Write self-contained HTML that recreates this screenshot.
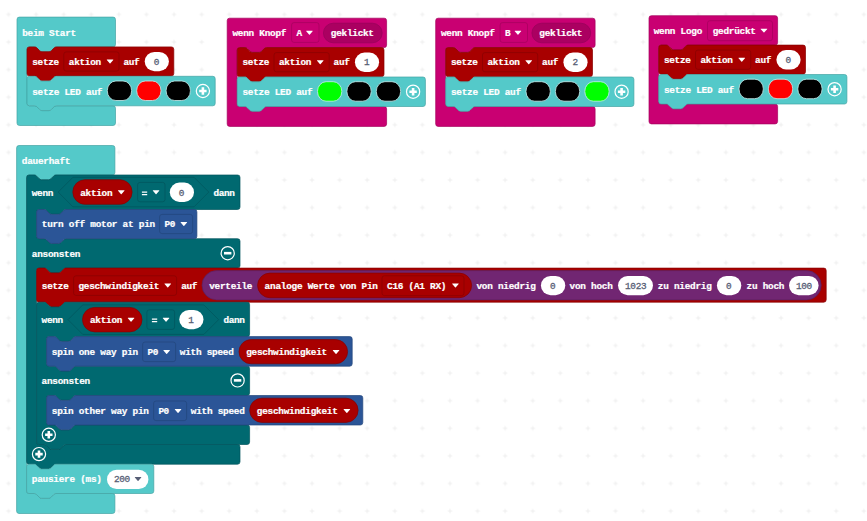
<!DOCTYPE html>
<html><head><meta charset="utf-8"><title>MakeCode</title>
<style>
html,body{margin:0;padding:0;background:#fff;}
body{width:867px;height:521px;overflow:hidden;}
svg{display:block;}
text{font-family:"Liberation Mono",monospace;}
</style></head><body>
<svg width="867" height="521" viewBox="0 0 867 521">
<defs><pattern id="g" x="-5.26" y="0.66" width="27.59" height="27.59" patternUnits="userSpaceOnUse">
<path d="M13.8,11.5v4.6M11.5,13.8h4.6" stroke="#e8e8e8" stroke-width="0.7" fill="none"/></pattern></defs>
<rect width="867" height="521" fill="#fff"/>
<rect width="867" height="521" fill="url(#g)"/>
<path d="M17,19.5 a2.4,2.4 0 0 1 2.4,-2.4 H113.1 a2.4,2.4 0 0 1 2.4,2.4 V44.5 a2.4,2.4 0 0 1 -2.4,2.4 H56.3 c -1.2,0 -1.8,0.6 -2.4,1.2 l -2.4,2.4 c -0.6,0.6 -1.2,1.2 -2.4,1.2 h -7.2 c -1.2,0 -1.8,-0.6 -2.4,-1.2 l -2.4,-2.4 c -0.6,-0.6 -1.2,-1.2 -2.4,-1.2 H29.4 a2.4,2.4 0 0 0 -2.4,2.4 V103.4 a2.4,2.4 0 0 0 2.4,2.4 H34.7 c 1.2,0 1.8,0.6 2.4,1.2 l 2.4,2.4 c 0.6,0.6 1.2,1.2 2.4,1.2 h 7.2 c 1.2,0 1.8,-0.6 2.4,-1.2 l 2.4,-2.4 c 0.6,-0.6 1.2,-1.2 2.4,-1.2 H113.1 a2.4,2.4 0 0 1 2.4,2.4 V123.1 a2.4,2.4 0 0 1 -2.4,2.4 H19.4 a2.4,2.4 0 0 1 -2.4,-2.4 z" fill="#54C9C9" stroke="#44A3A3" stroke-width="0.7"/>
<text x="22.2" y="35.8" fill="#fff" font-weight="bold" font-size="9.4" text-anchor="start" textLength="54" lengthAdjust="spacing" stroke="#fff" stroke-width="0.22">beim Start</text>
<path d="M27,49.3 a2.4,2.4 0 0 1 2.4,-2.4 H34.7 c 1.2,0 1.8,0.6 2.4,1.2 l 2.4,2.4 c 0.6,0.6 1.2,1.2 2.4,1.2 h 7.2 c 1.2,0 1.8,-0.6 2.4,-1.2 l 2.4,-2.4 c 0.6,-0.6 1.2,-1.2 2.4,-1.2 H171.4 a2.4,2.4 0 0 1 2.4,2.4 V73.6 a2.4,2.4 0 0 1 -2.4,2.4 H56.3 c -1.2,0 -1.8,0.6 -2.4,1.2 l -2.4,2.4 c -0.6,0.6 -1.2,1.2 -2.4,1.2 h -7.2 c -1.2,0 -1.8,-0.6 -2.4,-1.2 l -2.4,-2.4 c -0.6,-0.6 -1.2,-1.2 -2.4,-1.2 H29.4 a2.4,2.4 0 0 1 -2.4,-2.4 z" fill="#A80000" stroke="#860000" stroke-width="0.7"/>
<text x="32.2" y="64.7" fill="#fff" font-weight="bold" font-size="9.4" text-anchor="start" textLength="27" lengthAdjust="spacing" stroke="#fff" stroke-width="0.22">setze</text>
<rect x="63.8" y="51.9" width="55.2" height="19.2" rx="2.4" fill="#A80000" stroke="#860000" stroke-width="0.7"/>
<text x="68.8" y="64.7" fill="#fff" font-weight="bold" font-size="9.4" text-anchor="start" textLength="32.4" lengthAdjust="spacing" stroke="#fff" stroke-width="0.22">aktion</text>
<path d="M106.7,59.55 h6.3 q0.6,0 0.25,0.5 l-2.8,3.2 q-0.4,0.45 -0.8,0 l-2.8,-3.2 q-0.35,-0.5 0.25,-0.5 z" fill="#fff"/>
<text x="123.4" y="64.7" fill="#fff" font-weight="bold" font-size="9.4" text-anchor="start" textLength="16.2" lengthAdjust="spacing" stroke="#fff" stroke-width="0.22">auf</text>
<rect x="144.7" y="51.9" width="24.2" height="19.3" rx="9.65" fill="#fff" stroke="#fff" stroke-width="0"/>
<text x="156.5" y="64.7" fill="#575E75" font-weight="normal" font-size="9.4" text-anchor="middle" stroke="#575E75" stroke-width="0.3">0</text>
<path d="M27,78.7 a2.4,2.4 0 0 1 2.4,-2.4 H34.7 c 1.2,0 1.8,0.6 2.4,1.2 l 2.4,2.4 c 0.6,0.6 1.2,1.2 2.4,1.2 h 7.2 c 1.2,0 1.8,-0.6 2.4,-1.2 l 2.4,-2.4 c 0.6,-0.6 1.2,-1.2 2.4,-1.2 H212.8 a2.4,2.4 0 0 1 2.4,2.4 V103.4 a2.4,2.4 0 0 1 -2.4,2.4 H56.3 c -1.2,0 -1.8,0.6 -2.4,1.2 l -2.4,2.4 c -0.6,0.6 -1.2,1.2 -2.4,1.2 h -7.2 c -1.2,0 -1.8,-0.6 -2.4,-1.2 l -2.4,-2.4 c -0.6,-0.6 -1.2,-1.2 -2.4,-1.2 H29.4 a2.4,2.4 0 0 1 -2.4,-2.4 z" fill="#54C9C9" stroke="#44A3A3" stroke-width="0.7"/>
<text x="32.2" y="94.5" fill="#fff" font-weight="bold" font-size="9.4" text-anchor="start" textLength="70.2" lengthAdjust="spacing" stroke="#fff" stroke-width="0.22">setze LED auf</text>
<rect x="107.3" y="81" width="24.3" height="19.5" rx="8.6" ry="9.6" fill="#000" stroke="#c9eeee" stroke-width="0.8"/>
<rect x="136.7" y="81" width="24.3" height="19.5" rx="8.6" ry="9.6" fill="#f00" stroke="#c9eeee" stroke-width="0.8"/>
<rect x="166.1" y="81" width="24.3" height="19.5" rx="8.6" ry="9.6" fill="#000" stroke="#c9eeee" stroke-width="0.8"/>
<circle cx="202.9" cy="91" r="6.6" fill="none" stroke="#fff" stroke-width="1.2"/>
<path d="M199.2,91 h7.4 M202.9,87.3 v7.4" stroke="#fff" stroke-width="2.6" fill="none"/>
<path d="M227.2,20.6 a2.4,2.4 0 0 1 2.4,-2.4 H384.2 a2.4,2.4 0 0 1 2.4,2.4 V45.2 a2.4,2.4 0 0 1 -2.4,2.4 H266.5 c -1.2,0 -1.8,0.6 -2.4,1.2 l -2.4,2.4 c -0.6,0.6 -1.2,1.2 -2.4,1.2 h -7.2 c -1.2,0 -1.8,-0.6 -2.4,-1.2 l -2.4,-2.4 c -0.6,-0.6 -1.2,-1.2 -2.4,-1.2 H239.6 a2.4,2.4 0 0 0 -2.4,2.4 V104.1 a2.4,2.4 0 0 0 2.4,2.4 H244.9 c 1.2,0 1.8,0.6 2.4,1.2 l 2.4,2.4 c 0.6,0.6 1.2,1.2 2.4,1.2 h 7.2 c 1.2,0 1.8,-0.6 2.4,-1.2 l 2.4,-2.4 c 0.6,-0.6 1.2,-1.2 2.4,-1.2 H384.2 a2.4,2.4 0 0 1 2.4,2.4 V124 a2.4,2.4 0 0 1 -2.4,2.4 H229.6 a2.4,2.4 0 0 1 -2.4,-2.4 z" fill="#C90072" stroke="#A3005C" stroke-width="0.7"/>
<text x="232.4" y="35.9" fill="#fff" font-weight="bold" font-size="9.4" text-anchor="start" textLength="54" lengthAdjust="spacing" stroke="#fff" stroke-width="0.22">wenn Knopf</text>
<rect x="291.6" y="22.6" width="27.4" height="19.8" rx="2.4" fill="#C90072" stroke="#A3005C" stroke-width="0.7"/>
<text x="296.4" y="35.9" fill="#fff" font-weight="bold" font-size="9.4" text-anchor="start" stroke="#fff" stroke-width="0.22">A</text>
<path d="M306.1,30.75 h6.3 q0.6,0 0.25,0.5 l-2.8,3.2 q-0.4,0.45 -0.8,0 l-2.8,-3.2 q-0.35,-0.5 0.25,-0.5 z" fill="#fff"/>
<rect x="323.4" y="23.2" width="58.8" height="19.6" rx="9.8" fill="#AB0061" stroke="#97005A" stroke-width="0.7"/>
<text x="330.8" y="35.9" fill="#fff" font-weight="bold" font-size="9.4" text-anchor="start" textLength="43.2" lengthAdjust="spacing" stroke="#fff" stroke-width="0.22">geklickt</text>
<path d="M237.2,50 a2.4,2.4 0 0 1 2.4,-2.4 H244.9 c 1.2,0 1.8,0.6 2.4,1.2 l 2.4,2.4 c 0.6,0.6 1.2,1.2 2.4,1.2 h 7.2 c 1.2,0 1.8,-0.6 2.4,-1.2 l 2.4,-2.4 c 0.6,-0.6 1.2,-1.2 2.4,-1.2 H381.6 a2.4,2.4 0 0 1 2.4,2.4 V74.3 a2.4,2.4 0 0 1 -2.4,2.4 H266.5 c -1.2,0 -1.8,0.6 -2.4,1.2 l -2.4,2.4 c -0.6,0.6 -1.2,1.2 -2.4,1.2 h -7.2 c -1.2,0 -1.8,-0.6 -2.4,-1.2 l -2.4,-2.4 c -0.6,-0.6 -1.2,-1.2 -2.4,-1.2 H239.6 a2.4,2.4 0 0 1 -2.4,-2.4 z" fill="#A80000" stroke="#860000" stroke-width="0.7"/>
<text x="242.4" y="65.4" fill="#fff" font-weight="bold" font-size="9.4" text-anchor="start" textLength="27" lengthAdjust="spacing" stroke="#fff" stroke-width="0.22">setze</text>
<rect x="274" y="52.6" width="55.2" height="19.2" rx="2.4" fill="#A80000" stroke="#860000" stroke-width="0.7"/>
<text x="279" y="65.4" fill="#fff" font-weight="bold" font-size="9.4" text-anchor="start" textLength="32.4" lengthAdjust="spacing" stroke="#fff" stroke-width="0.22">aktion</text>
<path d="M316.9,60.25 h6.3 q0.6,0 0.25,0.5 l-2.8,3.2 q-0.4,0.45 -0.8,0 l-2.8,-3.2 q-0.35,-0.5 0.25,-0.5 z" fill="#fff"/>
<text x="333.6" y="65.4" fill="#fff" font-weight="bold" font-size="9.4" text-anchor="start" textLength="16.2" lengthAdjust="spacing" stroke="#fff" stroke-width="0.22">auf</text>
<rect x="354.9" y="52.6" width="24.2" height="19.3" rx="9.65" fill="#fff" stroke="#fff" stroke-width="0"/>
<text x="366.7" y="65.4" fill="#575E75" font-weight="normal" font-size="9.4" text-anchor="middle" stroke="#575E75" stroke-width="0.3">1</text>
<path d="M237.2,79.4 a2.4,2.4 0 0 1 2.4,-2.4 H244.9 c 1.2,0 1.8,0.6 2.4,1.2 l 2.4,2.4 c 0.6,0.6 1.2,1.2 2.4,1.2 h 7.2 c 1.2,0 1.8,-0.6 2.4,-1.2 l 2.4,-2.4 c 0.6,-0.6 1.2,-1.2 2.4,-1.2 H423 a2.4,2.4 0 0 1 2.4,2.4 V104.1 a2.4,2.4 0 0 1 -2.4,2.4 H266.5 c -1.2,0 -1.8,0.6 -2.4,1.2 l -2.4,2.4 c -0.6,0.6 -1.2,1.2 -2.4,1.2 h -7.2 c -1.2,0 -1.8,-0.6 -2.4,-1.2 l -2.4,-2.4 c -0.6,-0.6 -1.2,-1.2 -2.4,-1.2 H239.6 a2.4,2.4 0 0 1 -2.4,-2.4 z" fill="#54C9C9" stroke="#44A3A3" stroke-width="0.7"/>
<text x="242.4" y="95.2" fill="#fff" font-weight="bold" font-size="9.4" text-anchor="start" textLength="70.2" lengthAdjust="spacing" stroke="#fff" stroke-width="0.22">setze LED auf</text>
<rect x="317.5" y="81.7" width="24.3" height="19.5" rx="8.6" ry="9.6" fill="#0f0" stroke="#c9eeee" stroke-width="0.8"/>
<rect x="346.9" y="81.7" width="24.3" height="19.5" rx="8.6" ry="9.6" fill="#000" stroke="#c9eeee" stroke-width="0.8"/>
<rect x="376.3" y="81.7" width="24.3" height="19.5" rx="8.6" ry="9.6" fill="#000" stroke="#c9eeee" stroke-width="0.8"/>
<circle cx="413.1" cy="91.7" r="6.6" fill="none" stroke="#fff" stroke-width="1.2"/>
<path d="M409.4,91.7 h7.4 M413.1,88 v7.4" stroke="#fff" stroke-width="2.6" fill="none"/>
<path d="M435.7,20.6 a2.4,2.4 0 0 1 2.4,-2.4 H592.7 a2.4,2.4 0 0 1 2.4,2.4 V45.2 a2.4,2.4 0 0 1 -2.4,2.4 H475 c -1.2,0 -1.8,0.6 -2.4,1.2 l -2.4,2.4 c -0.6,0.6 -1.2,1.2 -2.4,1.2 h -7.2 c -1.2,0 -1.8,-0.6 -2.4,-1.2 l -2.4,-2.4 c -0.6,-0.6 -1.2,-1.2 -2.4,-1.2 H448.1 a2.4,2.4 0 0 0 -2.4,2.4 V104.1 a2.4,2.4 0 0 0 2.4,2.4 H453.4 c 1.2,0 1.8,0.6 2.4,1.2 l 2.4,2.4 c 0.6,0.6 1.2,1.2 2.4,1.2 h 7.2 c 1.2,0 1.8,-0.6 2.4,-1.2 l 2.4,-2.4 c 0.6,-0.6 1.2,-1.2 2.4,-1.2 H592.7 a2.4,2.4 0 0 1 2.4,2.4 V124 a2.4,2.4 0 0 1 -2.4,2.4 H438.1 a2.4,2.4 0 0 1 -2.4,-2.4 z" fill="#C90072" stroke="#A3005C" stroke-width="0.7"/>
<text x="440.9" y="35.9" fill="#fff" font-weight="bold" font-size="9.4" text-anchor="start" textLength="54" lengthAdjust="spacing" stroke="#fff" stroke-width="0.22">wenn Knopf</text>
<rect x="500.1" y="22.6" width="27.4" height="19.8" rx="2.4" fill="#C90072" stroke="#A3005C" stroke-width="0.7"/>
<text x="504.9" y="35.9" fill="#fff" font-weight="bold" font-size="9.4" text-anchor="start" stroke="#fff" stroke-width="0.22">B</text>
<path d="M514.6,30.75 h6.3 q0.6,0 0.25,0.5 l-2.8,3.2 q-0.4,0.45 -0.8,0 l-2.8,-3.2 q-0.35,-0.5 0.25,-0.5 z" fill="#fff"/>
<rect x="531.9" y="23.2" width="58.8" height="19.6" rx="9.8" fill="#AB0061" stroke="#97005A" stroke-width="0.7"/>
<text x="539.3" y="35.9" fill="#fff" font-weight="bold" font-size="9.4" text-anchor="start" textLength="43.2" lengthAdjust="spacing" stroke="#fff" stroke-width="0.22">geklickt</text>
<path d="M445.7,50 a2.4,2.4 0 0 1 2.4,-2.4 H453.4 c 1.2,0 1.8,0.6 2.4,1.2 l 2.4,2.4 c 0.6,0.6 1.2,1.2 2.4,1.2 h 7.2 c 1.2,0 1.8,-0.6 2.4,-1.2 l 2.4,-2.4 c 0.6,-0.6 1.2,-1.2 2.4,-1.2 H590.1 a2.4,2.4 0 0 1 2.4,2.4 V74.3 a2.4,2.4 0 0 1 -2.4,2.4 H475 c -1.2,0 -1.8,0.6 -2.4,1.2 l -2.4,2.4 c -0.6,0.6 -1.2,1.2 -2.4,1.2 h -7.2 c -1.2,0 -1.8,-0.6 -2.4,-1.2 l -2.4,-2.4 c -0.6,-0.6 -1.2,-1.2 -2.4,-1.2 H448.1 a2.4,2.4 0 0 1 -2.4,-2.4 z" fill="#A80000" stroke="#860000" stroke-width="0.7"/>
<text x="450.9" y="65.4" fill="#fff" font-weight="bold" font-size="9.4" text-anchor="start" textLength="27" lengthAdjust="spacing" stroke="#fff" stroke-width="0.22">setze</text>
<rect x="482.5" y="52.6" width="55.2" height="19.2" rx="2.4" fill="#A80000" stroke="#860000" stroke-width="0.7"/>
<text x="487.5" y="65.4" fill="#fff" font-weight="bold" font-size="9.4" text-anchor="start" textLength="32.4" lengthAdjust="spacing" stroke="#fff" stroke-width="0.22">aktion</text>
<path d="M525.4,60.25 h6.3 q0.6,0 0.25,0.5 l-2.8,3.2 q-0.4,0.45 -0.8,0 l-2.8,-3.2 q-0.35,-0.5 0.25,-0.5 z" fill="#fff"/>
<text x="542.1" y="65.4" fill="#fff" font-weight="bold" font-size="9.4" text-anchor="start" textLength="16.2" lengthAdjust="spacing" stroke="#fff" stroke-width="0.22">auf</text>
<rect x="563.4" y="52.6" width="24.2" height="19.3" rx="9.65" fill="#fff" stroke="#fff" stroke-width="0"/>
<text x="575.2" y="65.4" fill="#575E75" font-weight="normal" font-size="9.4" text-anchor="middle" stroke="#575E75" stroke-width="0.3">2</text>
<path d="M445.7,79.4 a2.4,2.4 0 0 1 2.4,-2.4 H453.4 c 1.2,0 1.8,0.6 2.4,1.2 l 2.4,2.4 c 0.6,0.6 1.2,1.2 2.4,1.2 h 7.2 c 1.2,0 1.8,-0.6 2.4,-1.2 l 2.4,-2.4 c 0.6,-0.6 1.2,-1.2 2.4,-1.2 H631.5 a2.4,2.4 0 0 1 2.4,2.4 V104.1 a2.4,2.4 0 0 1 -2.4,2.4 H475 c -1.2,0 -1.8,0.6 -2.4,1.2 l -2.4,2.4 c -0.6,0.6 -1.2,1.2 -2.4,1.2 h -7.2 c -1.2,0 -1.8,-0.6 -2.4,-1.2 l -2.4,-2.4 c -0.6,-0.6 -1.2,-1.2 -2.4,-1.2 H448.1 a2.4,2.4 0 0 1 -2.4,-2.4 z" fill="#54C9C9" stroke="#44A3A3" stroke-width="0.7"/>
<text x="450.9" y="95.2" fill="#fff" font-weight="bold" font-size="9.4" text-anchor="start" textLength="70.2" lengthAdjust="spacing" stroke="#fff" stroke-width="0.22">setze LED auf</text>
<rect x="526" y="81.7" width="24.3" height="19.5" rx="8.6" ry="9.6" fill="#000" stroke="#c9eeee" stroke-width="0.8"/>
<rect x="555.4" y="81.7" width="24.3" height="19.5" rx="8.6" ry="9.6" fill="#000" stroke="#c9eeee" stroke-width="0.8"/>
<rect x="584.8" y="81.7" width="24.3" height="19.5" rx="8.6" ry="9.6" fill="#0f0" stroke="#c9eeee" stroke-width="0.8"/>
<circle cx="621.6" cy="91.7" r="6.6" fill="none" stroke="#fff" stroke-width="1.2"/>
<path d="M617.9,91.7 h7.4 M621.6,88 v7.4" stroke="#fff" stroke-width="2.6" fill="none"/>
<path d="M649,18.1 a2.4,2.4 0 0 1 2.4,-2.4 H775.2 a2.4,2.4 0 0 1 2.4,2.4 V42.7 a2.4,2.4 0 0 1 -2.4,2.4 H688 c -1.2,0 -1.8,0.6 -2.4,1.2 l -2.4,2.4 c -0.6,0.6 -1.2,1.2 -2.4,1.2 h -7.2 c -1.2,0 -1.8,-0.6 -2.4,-1.2 l -2.4,-2.4 c -0.6,-0.6 -1.2,-1.2 -2.4,-1.2 H661.1 a2.4,2.4 0 0 0 -2.4,2.4 V101.6 a2.4,2.4 0 0 0 2.4,2.4 H666.4 c 1.2,0 1.8,0.6 2.4,1.2 l 2.4,2.4 c 0.6,0.6 1.2,1.2 2.4,1.2 h 7.2 c 1.2,0 1.8,-0.6 2.4,-1.2 l 2.4,-2.4 c 0.6,-0.6 1.2,-1.2 2.4,-1.2 H775.2 a2.4,2.4 0 0 1 2.4,2.4 V121.5 a2.4,2.4 0 0 1 -2.4,2.4 H651.4 a2.4,2.4 0 0 1 -2.4,-2.4 z" fill="#C90072" stroke="#A3005C" stroke-width="0.7"/>
<text x="653.7" y="33.8" fill="#fff" font-weight="bold" font-size="9.4" text-anchor="start" textLength="48.6" lengthAdjust="spacing" stroke="#fff" stroke-width="0.22">wenn Logo</text>
<rect x="707.5" y="20.7" width="65" height="20" rx="2.4" fill="#C90072" stroke="#A3005C" stroke-width="0.7"/>
<text x="712.7" y="33.8" fill="#fff" font-weight="bold" font-size="9.4" text-anchor="start" textLength="43.2" lengthAdjust="spacing" stroke="#fff" stroke-width="0.22">gedrückt</text>
<path d="M760.6,28.65 h6.3 q0.6,0 0.25,0.5 l-2.8,3.2 q-0.4,0.45 -0.8,0 l-2.8,-3.2 q-0.35,-0.5 0.25,-0.5 z" fill="#fff"/>
<path d="M658.7,47.5 a2.4,2.4 0 0 1 2.4,-2.4 H666.4 c 1.2,0 1.8,0.6 2.4,1.2 l 2.4,2.4 c 0.6,0.6 1.2,1.2 2.4,1.2 h 7.2 c 1.2,0 1.8,-0.6 2.4,-1.2 l 2.4,-2.4 c 0.6,-0.6 1.2,-1.2 2.4,-1.2 H803.1 a2.4,2.4 0 0 1 2.4,2.4 V71.8 a2.4,2.4 0 0 1 -2.4,2.4 H688 c -1.2,0 -1.8,0.6 -2.4,1.2 l -2.4,2.4 c -0.6,0.6 -1.2,1.2 -2.4,1.2 h -7.2 c -1.2,0 -1.8,-0.6 -2.4,-1.2 l -2.4,-2.4 c -0.6,-0.6 -1.2,-1.2 -2.4,-1.2 H661.1 a2.4,2.4 0 0 1 -2.4,-2.4 z" fill="#A80000" stroke="#860000" stroke-width="0.7"/>
<text x="663.9" y="62.9" fill="#fff" font-weight="bold" font-size="9.4" text-anchor="start" textLength="27" lengthAdjust="spacing" stroke="#fff" stroke-width="0.22">setze</text>
<rect x="695.5" y="50.1" width="55.2" height="19.2" rx="2.4" fill="#A80000" stroke="#860000" stroke-width="0.7"/>
<text x="700.5" y="62.9" fill="#fff" font-weight="bold" font-size="9.4" text-anchor="start" textLength="32.4" lengthAdjust="spacing" stroke="#fff" stroke-width="0.22">aktion</text>
<path d="M738.4,57.75 h6.3 q0.6,0 0.25,0.5 l-2.8,3.2 q-0.4,0.45 -0.8,0 l-2.8,-3.2 q-0.35,-0.5 0.25,-0.5 z" fill="#fff"/>
<text x="755.1" y="62.9" fill="#fff" font-weight="bold" font-size="9.4" text-anchor="start" textLength="16.2" lengthAdjust="spacing" stroke="#fff" stroke-width="0.22">auf</text>
<rect x="776.4" y="50.1" width="24.2" height="19.3" rx="9.65" fill="#fff" stroke="#fff" stroke-width="0"/>
<text x="788.2" y="62.9" fill="#575E75" font-weight="normal" font-size="9.4" text-anchor="middle" stroke="#575E75" stroke-width="0.3">0</text>
<path d="M658.7,76.9 a2.4,2.4 0 0 1 2.4,-2.4 H666.4 c 1.2,0 1.8,0.6 2.4,1.2 l 2.4,2.4 c 0.6,0.6 1.2,1.2 2.4,1.2 h 7.2 c 1.2,0 1.8,-0.6 2.4,-1.2 l 2.4,-2.4 c 0.6,-0.6 1.2,-1.2 2.4,-1.2 H844.5 a2.4,2.4 0 0 1 2.4,2.4 V101.6 a2.4,2.4 0 0 1 -2.4,2.4 H688 c -1.2,0 -1.8,0.6 -2.4,1.2 l -2.4,2.4 c -0.6,0.6 -1.2,1.2 -2.4,1.2 h -7.2 c -1.2,0 -1.8,-0.6 -2.4,-1.2 l -2.4,-2.4 c -0.6,-0.6 -1.2,-1.2 -2.4,-1.2 H661.1 a2.4,2.4 0 0 1 -2.4,-2.4 z" fill="#54C9C9" stroke="#44A3A3" stroke-width="0.7"/>
<text x="663.9" y="92.7" fill="#fff" font-weight="bold" font-size="9.4" text-anchor="start" textLength="70.2" lengthAdjust="spacing" stroke="#fff" stroke-width="0.22">setze LED auf</text>
<rect x="739" y="79.2" width="24.3" height="19.5" rx="8.6" ry="9.6" fill="#000" stroke="#c9eeee" stroke-width="0.8"/>
<rect x="768.4" y="79.2" width="24.3" height="19.5" rx="8.6" ry="9.6" fill="#f00" stroke="#c9eeee" stroke-width="0.8"/>
<rect x="797.8" y="79.2" width="24.3" height="19.5" rx="8.6" ry="9.6" fill="#000" stroke="#c9eeee" stroke-width="0.8"/>
<circle cx="834.6" cy="89.2" r="6.6" fill="none" stroke="#fff" stroke-width="1.2"/>
<path d="M830.9,89.2 h7.4 M834.6,85.5 v7.4" stroke="#fff" stroke-width="2.6" fill="none"/>
<path d="M16.6,147.9 a2.4,2.4 0 0 1 2.4,-2.4 H112.5 a2.4,2.4 0 0 1 2.4,2.4 V172.6 a2.4,2.4 0 0 1 -2.4,2.4 H55.9 c -1.2,0 -1.8,0.6 -2.4,1.2 l -2.4,2.4 c -0.6,0.6 -1.2,1.2 -2.4,1.2 h -7.2 c -1.2,0 -1.8,-0.6 -2.4,-1.2 l -2.4,-2.4 c -0.6,-0.6 -1.2,-1.2 -2.4,-1.2 H29 a2.4,2.4 0 0 0 -2.4,2.4 V491.1 a2.4,2.4 0 0 0 2.4,2.4 H34.3 c 1.2,0 1.8,0.6 2.4,1.2 l 2.4,2.4 c 0.6,0.6 1.2,1.2 2.4,1.2 h 7.2 c 1.2,0 1.8,-0.6 2.4,-1.2 l 2.4,-2.4 c 0.6,-0.6 1.2,-1.2 2.4,-1.2 H112.5 a2.4,2.4 0 0 1 2.4,2.4 V511.1 a2.4,2.4 0 0 1 -2.4,2.4 H19 a2.4,2.4 0 0 1 -2.4,-2.4 z" fill="#54C9C9" stroke="#44A3A3" stroke-width="0.7"/>
<text x="21.8" y="163.9" fill="#fff" font-weight="bold" font-size="9.4" text-anchor="start" textLength="48.6" lengthAdjust="spacing" stroke="#fff" stroke-width="0.22">dauerhaft</text>
<path d="M26.6,177.4 a2.4,2.4 0 0 1 2.4,-2.4 H34.3 c 1.2,0 1.8,0.6 2.4,1.2 l 2.4,2.4 c 0.6,0.6 1.2,1.2 2.4,1.2 h 7.2 c 1.2,0 1.8,-0.6 2.4,-1.2 l 2.4,-2.4 c 0.6,-0.6 1.2,-1.2 2.4,-1.2 H237.6 a2.4,2.4 0 0 1 2.4,2.4 V207.1 a2.4,2.4 0 0 1 -2.4,2.4 H65.9 c -1.2,0 -1.8,0.6 -2.4,1.2 l -2.4,2.4 c -0.6,0.6 -1.2,1.2 -2.4,1.2 h -7.2 c -1.2,0 -1.8,-0.6 -2.4,-1.2 l -2.4,-2.4 c -0.6,-0.6 -1.2,-1.2 -2.4,-1.2 H39 a2.4,2.4 0 0 0 -2.4,2.4 V236.3 a2.4,2.4 0 0 0 2.4,2.4 H44.3 c 1.2,0 1.8,0.6 2.4,1.2 l 2.4,2.4 c 0.6,0.6 1.2,1.2 2.4,1.2 h 7.2 c 1.2,0 1.8,-0.6 2.4,-1.2 l 2.4,-2.4 c 0.6,-0.6 1.2,-1.2 2.4,-1.2 H237.6 a2.4,2.4 0 0 1 2.4,2.4 V265.7 a2.4,2.4 0 0 1 -2.4,2.4 H65.9 c -1.2,0 -1.8,0.6 -2.4,1.2 l -2.4,2.4 c -0.6,0.6 -1.2,1.2 -2.4,1.2 h -7.2 c -1.2,0 -1.8,-0.6 -2.4,-1.2 l -2.4,-2.4 c -0.6,-0.6 -1.2,-1.2 -2.4,-1.2 H39 a2.4,2.4 0 0 0 -2.4,2.4 V442.1 a2.4,2.4 0 0 0 2.4,2.4 H44.3 c 1.2,0 1.8,0.6 2.4,1.2 l 2.4,2.4 c 0.6,0.6 1.2,1.2 2.4,1.2 h 7.2 c 1.2,0 1.8,-0.6 2.4,-1.2 l 2.4,-2.4 c 0.6,-0.6 1.2,-1.2 2.4,-1.2 H237.6 a2.4,2.4 0 0 1 2.4,2.4 V461.8 a2.4,2.4 0 0 1 -2.4,2.4 H55.9 c -1.2,0 -1.8,0.6 -2.4,1.2 l -2.4,2.4 c -0.6,0.6 -1.2,1.2 -2.4,1.2 h -7.2 c -1.2,0 -1.8,-0.6 -2.4,-1.2 l -2.4,-2.4 c -0.6,-0.6 -1.2,-1.2 -2.4,-1.2 H29 a2.4,2.4 0 0 1 -2.4,-2.4 z" fill="#006970" stroke="#00555B" stroke-width="0.7"/>
<text x="31.8" y="195.8" fill="#fff" font-weight="bold" font-size="9.4" text-anchor="start" textLength="21.6" lengthAdjust="spacing" stroke="#fff" stroke-width="0.22">wenn</text>
<path d="M72.95,177.3 H194.05 l14.75,14.75 l-14.75,14.75 H72.95 l-14.75,-14.75 z" fill="#006970" stroke="#00555B" stroke-width="0.7"/>
<rect x="72.8" y="179.7" width="59.3" height="24.6" rx="12.3" fill="#A80000" stroke="#860000" stroke-width="0.7"/>
<text x="80.2" y="195.8" fill="#fff" font-weight="bold" font-size="9.4" text-anchor="start" textLength="32.4" lengthAdjust="spacing" stroke="#fff" stroke-width="0.22">aktion</text>
<path d="M117.9,190.2 h6.3 q0.6,0 0.25,0.5 l-2.8,3.2 q-0.4,0.45 -0.8,0 l-2.8,-3.2 q-0.35,-0.5 0.25,-0.5 z" fill="#fff"/>
<rect x="137.6" y="182.4" width="27.4" height="19.4" rx="2.4" fill="#006970" stroke="#00555B" stroke-width="0.7"/>
<path d="M141.9,192.15 h5.3 M141.9,194.65 h5.3" stroke="#fff" stroke-width="1.1" fill="none"/>
<path d="M152.7,190.2 h6.3 q0.6,0 0.25,0.5 l-2.8,3.2 q-0.4,0.45 -0.8,0 l-2.8,-3.2 q-0.35,-0.5 0.25,-0.5 z" fill="#fff"/>
<rect x="169.8" y="182.6" width="24.2" height="19.3" rx="9.65" fill="#fff" stroke="#fff" stroke-width="0"/>
<text x="181.6" y="195.8" fill="#575E75" font-weight="normal" font-size="9.4" text-anchor="middle" stroke="#575E75" stroke-width="0.3">0</text>
<text x="213.4" y="195.8" fill="#fff" font-weight="bold" font-size="9.4" text-anchor="start" textLength="21.6" lengthAdjust="spacing" stroke="#fff" stroke-width="0.22">dann</text>
<path d="M36.6,211.9 a2.4,2.4 0 0 1 2.4,-2.4 H44.3 c 1.2,0 1.8,0.6 2.4,1.2 l 2.4,2.4 c 0.6,0.6 1.2,1.2 2.4,1.2 h 7.2 c 1.2,0 1.8,-0.6 2.4,-1.2 l 2.4,-2.4 c 0.6,-0.6 1.2,-1.2 2.4,-1.2 H194.5 a2.4,2.4 0 0 1 2.4,2.4 V236.3 a2.4,2.4 0 0 1 -2.4,2.4 H65.9 c -1.2,0 -1.8,0.6 -2.4,1.2 l -2.4,2.4 c -0.6,0.6 -1.2,1.2 -2.4,1.2 h -7.2 c -1.2,0 -1.8,-0.6 -2.4,-1.2 l -2.4,-2.4 c -0.6,-0.6 -1.2,-1.2 -2.4,-1.2 H39 a2.4,2.4 0 0 1 -2.4,-2.4 z" fill="#2B5597" stroke="#23467B" stroke-width="0.7"/>
<text x="41.8" y="227.2" fill="#fff" font-weight="bold" font-size="9.4" text-anchor="start" textLength="113.4" lengthAdjust="spacing" stroke="#fff" stroke-width="0.22">turn off motor at pin</text>
<rect x="159.6" y="214.4" width="33" height="19.2" rx="2.4" fill="#2B5597" stroke="#23467B" stroke-width="0.7"/>
<text x="164.6" y="227.2" fill="#fff" font-weight="bold" font-size="9.4" text-anchor="start" textLength="10.8" lengthAdjust="spacing" stroke="#fff" stroke-width="0.22">P0</text>
<path d="M180.5,222.05 h6.3 q0.6,0 0.25,0.5 l-2.8,3.2 q-0.4,0.45 -0.8,0 l-2.8,-3.2 q-0.35,-0.5 0.25,-0.5 z" fill="#fff"/>
<text x="31.8" y="257.1" fill="#fff" font-weight="bold" font-size="9.4" text-anchor="start" textLength="48.6" lengthAdjust="spacing" stroke="#fff" stroke-width="0.22">ansonsten</text>
<circle cx="227.7" cy="253.2" r="6.6" fill="none" stroke="#fff" stroke-width="1.2"/>
<path d="M224,253.2 h7.4" stroke="#fff" stroke-width="2.6" fill="none"/>
<path d="M36.6,270.5 a2.4,2.4 0 0 1 2.4,-2.4 H44.3 c 1.2,0 1.8,0.6 2.4,1.2 l 2.4,2.4 c 0.6,0.6 1.2,1.2 2.4,1.2 h 7.2 c 1.2,0 1.8,-0.6 2.4,-1.2 l 2.4,-2.4 c 0.6,-0.6 1.2,-1.2 2.4,-1.2 H823.8 a2.4,2.4 0 0 1 2.4,2.4 V299.8 a2.4,2.4 0 0 1 -2.4,2.4 H65.9 c -1.2,0 -1.8,0.6 -2.4,1.2 l -2.4,2.4 c -0.6,0.6 -1.2,1.2 -2.4,1.2 h -7.2 c -1.2,0 -1.8,-0.6 -2.4,-1.2 l -2.4,-2.4 c -0.6,-0.6 -1.2,-1.2 -2.4,-1.2 H39 a2.4,2.4 0 0 1 -2.4,-2.4 z" fill="#A80000" stroke="#860000" stroke-width="0.7"/>
<text x="41.8" y="289.1" fill="#fff" font-weight="bold" font-size="9.4" text-anchor="start" textLength="27" lengthAdjust="spacing" stroke="#fff" stroke-width="0.22">setze</text>
<rect x="73.6" y="275.8" width="103" height="19.6" rx="2.4" fill="#A80000" stroke="#860000" stroke-width="0.7"/>
<text x="78.4" y="289.1" fill="#fff" font-weight="bold" font-size="9.4" text-anchor="start" textLength="81" lengthAdjust="spacing" stroke="#fff" stroke-width="0.22">geschwindigkeit</text>
<path d="M164.4,283.45 h6.3 q0.6,0 0.25,0.5 l-2.8,3.2 q-0.4,0.45 -0.8,0 l-2.8,-3.2 q-0.35,-0.5 0.25,-0.5 z" fill="#fff"/>
<text x="181.2" y="289.1" fill="#fff" font-weight="bold" font-size="9.4" text-anchor="start" textLength="16.2" lengthAdjust="spacing" stroke="#fff" stroke-width="0.22">auf</text>
<rect x="202" y="270.6" width="619.2" height="29.3" rx="14.65" fill="#712672" stroke="#5B1F5C" stroke-width="0.7"/>
<text x="209.2" y="289.1" fill="#fff" font-weight="bold" font-size="9.4" text-anchor="start" textLength="43.2" lengthAdjust="spacing" stroke="#fff" stroke-width="0.22">verteile</text>
<rect x="257.6" y="273.1" width="214" height="24.6" rx="12.3" fill="#A80000" stroke="#860000" stroke-width="0.7"/>
<text x="264.6" y="289.1" fill="#fff" font-weight="bold" font-size="9.4" text-anchor="start" textLength="113.4" lengthAdjust="spacing" stroke="#fff" stroke-width="0.22">analoge Werte von Pin</text>
<rect x="382" y="275.8" width="82" height="19.8" rx="2.4" fill="#A80000" stroke="#860000" stroke-width="0.7"/>
<text x="387" y="289.1" fill="#fff" font-weight="bold" font-size="9.4" text-anchor="start" textLength="59.4" lengthAdjust="spacing" stroke="#fff" stroke-width="0.22">C16 (A1 RX)</text>
<path d="M452.1,283.45 h6.3 q0.6,0 0.25,0.5 l-2.8,3.2 q-0.4,0.45 -0.8,0 l-2.8,-3.2 q-0.35,-0.5 0.25,-0.5 z" fill="#fff"/>
<text x="476.4" y="289.1" fill="#fff" font-weight="bold" font-size="9.4" text-anchor="start" textLength="59.4" lengthAdjust="spacing" stroke="#fff" stroke-width="0.22">von niedrig</text>
<rect x="540.9" y="275.9" width="24.4" height="19.3" rx="9.65" fill="#fff" stroke="#fff" stroke-width="0"/>
<text x="552.8" y="289.1" fill="#575E75" font-weight="normal" font-size="9.4" text-anchor="middle" stroke="#575E75" stroke-width="0.3">0</text>
<text x="569.6" y="289.1" fill="#fff" font-weight="bold" font-size="9.4" text-anchor="start" textLength="43.2" lengthAdjust="spacing" stroke="#fff" stroke-width="0.22">von hoch</text>
<rect x="618" y="275.9" width="35" height="19.3" rx="9.65" fill="#fff" stroke="#fff" stroke-width="0"/>
<text x="635.85" y="289.1" fill="#575E75" font-weight="normal" font-size="9.4" text-anchor="middle" textLength="21.6" lengthAdjust="spacing" stroke="#575E75" stroke-width="0.3">1023</text>
<text x="657.8" y="289.1" fill="#fff" font-weight="bold" font-size="9.4" text-anchor="start" textLength="54" lengthAdjust="spacing" stroke="#fff" stroke-width="0.22">zu niedrig</text>
<rect x="716.9" y="275.9" width="24.4" height="19.3" rx="9.65" fill="#fff" stroke="#fff" stroke-width="0"/>
<text x="728.8" y="289.1" fill="#575E75" font-weight="normal" font-size="9.4" text-anchor="middle" stroke="#575E75" stroke-width="0.3">0</text>
<text x="746.6" y="289.1" fill="#fff" font-weight="bold" font-size="9.4" text-anchor="start" textLength="37.8" lengthAdjust="spacing" stroke="#fff" stroke-width="0.22">zu hoch</text>
<rect x="789" y="275.9" width="29.6" height="19.3" rx="9.65" fill="#fff" stroke="#fff" stroke-width="0"/>
<text x="804.15" y="289.1" fill="#575E75" font-weight="normal" font-size="9.4" text-anchor="middle" textLength="16.2" lengthAdjust="spacing" stroke="#575E75" stroke-width="0.3">100</text>
<path d="M36.6,304.6 a2.4,2.4 0 0 1 2.4,-2.4 H44.3 c 1.2,0 1.8,0.6 2.4,1.2 l 2.4,2.4 c 0.6,0.6 1.2,1.2 2.4,1.2 h 7.2 c 1.2,0 1.8,-0.6 2.4,-1.2 l 2.4,-2.4 c 0.6,-0.6 1.2,-1.2 2.4,-1.2 H247.2 a2.4,2.4 0 0 1 2.4,2.4 V334.2 a2.4,2.4 0 0 1 -2.4,2.4 H75.9 c -1.2,0 -1.8,0.6 -2.4,1.2 l -2.4,2.4 c -0.6,0.6 -1.2,1.2 -2.4,1.2 h -7.2 c -1.2,0 -1.8,-0.6 -2.4,-1.2 l -2.4,-2.4 c -0.6,-0.6 -1.2,-1.2 -2.4,-1.2 H49 a2.4,2.4 0 0 0 -2.4,2.4 V363.8 a2.4,2.4 0 0 0 2.4,2.4 H54.3 c 1.2,0 1.8,0.6 2.4,1.2 l 2.4,2.4 c 0.6,0.6 1.2,1.2 2.4,1.2 h 7.2 c 1.2,0 1.8,-0.6 2.4,-1.2 l 2.4,-2.4 c 0.6,-0.6 1.2,-1.2 2.4,-1.2 H247.2 a2.4,2.4 0 0 1 2.4,2.4 V393.1 a2.4,2.4 0 0 1 -2.4,2.4 H75.9 c -1.2,0 -1.8,0.6 -2.4,1.2 l -2.4,2.4 c -0.6,0.6 -1.2,1.2 -2.4,1.2 h -7.2 c -1.2,0 -1.8,-0.6 -2.4,-1.2 l -2.4,-2.4 c -0.6,-0.6 -1.2,-1.2 -2.4,-1.2 H49 a2.4,2.4 0 0 0 -2.4,2.4 V422.6 a2.4,2.4 0 0 0 2.4,2.4 H54.3 c 1.2,0 1.8,0.6 2.4,1.2 l 2.4,2.4 c 0.6,0.6 1.2,1.2 2.4,1.2 h 7.2 c 1.2,0 1.8,-0.6 2.4,-1.2 l 2.4,-2.4 c 0.6,-0.6 1.2,-1.2 2.4,-1.2 H247.2 a2.4,2.4 0 0 1 2.4,2.4 V442.1 a2.4,2.4 0 0 1 -2.4,2.4 H65.9 c -1.2,0 -1.8,0.6 -2.4,1.2 l -2.4,2.4 c -0.6,0.6 -1.2,1.2 -2.4,1.2 h -7.2 c -1.2,0 -1.8,-0.6 -2.4,-1.2 l -2.4,-2.4 c -0.6,-0.6 -1.2,-1.2 -2.4,-1.2 H39 a2.4,2.4 0 0 1 -2.4,-2.4 z" fill="#006970" stroke="#00555B" stroke-width="0.7"/>
<text x="41.6" y="323.2" fill="#fff" font-weight="bold" font-size="9.4" text-anchor="start" textLength="21.6" lengthAdjust="spacing" stroke="#fff" stroke-width="0.22">wenn</text>
<path d="M82.75,304.9 H203.85 l14.75,14.75 l-14.75,14.75 H82.75 l-14.75,-14.75 z" fill="#006970" stroke="#00555B" stroke-width="0.7"/>
<rect x="82.5" y="307.4" width="59.5" height="24.5" rx="12.25" fill="#A80000" stroke="#860000" stroke-width="0.7"/>
<text x="90" y="323.2" fill="#fff" font-weight="bold" font-size="9.4" text-anchor="start" textLength="32.4" lengthAdjust="spacing" stroke="#fff" stroke-width="0.22">aktion</text>
<path d="M127.7,317.75 h6.3 q0.6,0 0.25,0.5 l-2.8,3.2 q-0.4,0.45 -0.8,0 l-2.8,-3.2 q-0.35,-0.5 0.25,-0.5 z" fill="#fff"/>
<rect x="146.9" y="309.8" width="27.7" height="19.6" rx="2.4" fill="#006970" stroke="#00555B" stroke-width="0.7"/>
<path d="M151.9,319.1 h5.3 M151.9,321.6 h5.3" stroke="#fff" stroke-width="1.1" fill="none"/>
<path d="M162.7,317.75 h6.3 q0.6,0 0.25,0.5 l-2.8,3.2 q-0.4,0.45 -0.8,0 l-2.8,-3.2 q-0.35,-0.5 0.25,-0.5 z" fill="#fff"/>
<rect x="179.3" y="309.9" width="24.2" height="19.3" rx="9.65" fill="#fff" stroke="#fff" stroke-width="0"/>
<text x="191.1" y="323.2" fill="#575E75" font-weight="normal" font-size="9.4" text-anchor="middle" stroke="#575E75" stroke-width="0.3">1</text>
<text x="223.4" y="323.2" fill="#fff" font-weight="bold" font-size="9.4" text-anchor="start" textLength="21.6" lengthAdjust="spacing" stroke="#fff" stroke-width="0.22">dann</text>
<path d="M46.6,339 a2.4,2.4 0 0 1 2.4,-2.4 H54.3 c 1.2,0 1.8,0.6 2.4,1.2 l 2.4,2.4 c 0.6,0.6 1.2,1.2 2.4,1.2 h 7.2 c 1.2,0 1.8,-0.6 2.4,-1.2 l 2.4,-2.4 c 0.6,-0.6 1.2,-1.2 2.4,-1.2 H349.8 a2.4,2.4 0 0 1 2.4,2.4 V363.8 a2.4,2.4 0 0 1 -2.4,2.4 H75.9 c -1.2,0 -1.8,0.6 -2.4,1.2 l -2.4,2.4 c -0.6,0.6 -1.2,1.2 -2.4,1.2 h -7.2 c -1.2,0 -1.8,-0.6 -2.4,-1.2 l -2.4,-2.4 c -0.6,-0.6 -1.2,-1.2 -2.4,-1.2 H49 a2.4,2.4 0 0 1 -2.4,-2.4 z" fill="#2B5597" stroke="#23467B" stroke-width="0.7"/>
<text x="51.8" y="355.1" fill="#fff" font-weight="bold" font-size="9.4" text-anchor="start" textLength="86.4" lengthAdjust="spacing" stroke="#fff" stroke-width="0.22">spin one way pin</text>
<rect x="142.6" y="342" width="33" height="19.6" rx="2.4" fill="#2B5597" stroke="#23467B" stroke-width="0.7"/>
<text x="147.6" y="355.1" fill="#fff" font-weight="bold" font-size="9.4" text-anchor="start" textLength="10.8" lengthAdjust="spacing" stroke="#fff" stroke-width="0.22">P0</text>
<path d="M163.3,349.95 h6.3 q0.6,0 0.25,0.5 l-2.8,3.2 q-0.4,0.45 -0.8,0 l-2.8,-3.2 q-0.35,-0.5 0.25,-0.5 z" fill="#fff"/>
<text x="179.8" y="355.1" fill="#fff" font-weight="bold" font-size="9.4" text-anchor="start" textLength="54" lengthAdjust="spacing" stroke="#fff" stroke-width="0.22">with speed</text>
<rect x="239" y="339.6" width="108.6" height="24.2" rx="12.1" fill="#A80000" stroke="#860000" stroke-width="0.7"/>
<text x="246.2" y="355.1" fill="#fff" font-weight="bold" font-size="9.4" text-anchor="start" textLength="81" lengthAdjust="spacing" stroke="#fff" stroke-width="0.22">geschwindigkeit</text>
<path d="M332.7,349.95 h6.3 q0.6,0 0.25,0.5 l-2.8,3.2 q-0.4,0.45 -0.8,0 l-2.8,-3.2 q-0.35,-0.5 0.25,-0.5 z" fill="#fff"/>
<text x="41.6" y="383.7" fill="#fff" font-weight="bold" font-size="9.4" text-anchor="start" textLength="48.6" lengthAdjust="spacing" stroke="#fff" stroke-width="0.22">ansonsten</text>
<circle cx="237.6" cy="380.4" r="6.6" fill="none" stroke="#fff" stroke-width="1.2"/>
<path d="M233.9,380.4 h7.4" stroke="#fff" stroke-width="2.6" fill="none"/>
<path d="M46.6,397.9 a2.4,2.4 0 0 1 2.4,-2.4 H54.3 c 1.2,0 1.8,0.6 2.4,1.2 l 2.4,2.4 c 0.6,0.6 1.2,1.2 2.4,1.2 h 7.2 c 1.2,0 1.8,-0.6 2.4,-1.2 l 2.4,-2.4 c 0.6,-0.6 1.2,-1.2 2.4,-1.2 H360.4 a2.4,2.4 0 0 1 2.4,2.4 V422.6 a2.4,2.4 0 0 1 -2.4,2.4 H75.9 c -1.2,0 -1.8,0.6 -2.4,1.2 l -2.4,2.4 c -0.6,0.6 -1.2,1.2 -2.4,1.2 h -7.2 c -1.2,0 -1.8,-0.6 -2.4,-1.2 l -2.4,-2.4 c -0.6,-0.6 -1.2,-1.2 -2.4,-1.2 H49 a2.4,2.4 0 0 1 -2.4,-2.4 z" fill="#2B5597" stroke="#23467B" stroke-width="0.7"/>
<text x="51.8" y="414.1" fill="#fff" font-weight="bold" font-size="9.4" text-anchor="start" textLength="97.2" lengthAdjust="spacing" stroke="#fff" stroke-width="0.22">spin other way pin</text>
<rect x="153.6" y="401" width="33" height="19.6" rx="2.4" fill="#2B5597" stroke="#23467B" stroke-width="0.7"/>
<text x="158.4" y="414.1" fill="#fff" font-weight="bold" font-size="9.4" text-anchor="start" textLength="10.8" lengthAdjust="spacing" stroke="#fff" stroke-width="0.22">P0</text>
<path d="M174.7,408.95 h6.3 q0.6,0 0.25,0.5 l-2.8,3.2 q-0.4,0.45 -0.8,0 l-2.8,-3.2 q-0.35,-0.5 0.25,-0.5 z" fill="#fff"/>
<text x="190.8" y="414.1" fill="#fff" font-weight="bold" font-size="9.4" text-anchor="start" textLength="54" lengthAdjust="spacing" stroke="#fff" stroke-width="0.22">with speed</text>
<rect x="249.7" y="398.2" width="108.4" height="24.2" rx="12.1" fill="#A80000" stroke="#860000" stroke-width="0.7"/>
<text x="256.8" y="414.1" fill="#fff" font-weight="bold" font-size="9.4" text-anchor="start" textLength="81" lengthAdjust="spacing" stroke="#fff" stroke-width="0.22">geschwindigkeit</text>
<path d="M343.5,408.95 h6.3 q0.6,0 0.25,0.5 l-2.8,3.2 q-0.4,0.45 -0.8,0 l-2.8,-3.2 q-0.35,-0.5 0.25,-0.5 z" fill="#fff"/>
<circle cx="48.8" cy="434.8" r="6.6" fill="none" stroke="#fff" stroke-width="1.2"/>
<path d="M45.1,434.8 h7.4 M48.8,431.1 v7.4" stroke="#fff" stroke-width="2.6" fill="none"/>
<circle cx="39" cy="454.1" r="6.6" fill="none" stroke="#fff" stroke-width="1.2"/>
<path d="M35.3,454.1 h7.4 M39,450.4 v7.4" stroke="#fff" stroke-width="2.6" fill="none"/>
<path d="M26.6,466.6 a2.4,2.4 0 0 1 2.4,-2.4 H34.3 c 1.2,0 1.8,0.6 2.4,1.2 l 2.4,2.4 c 0.6,0.6 1.2,1.2 2.4,1.2 h 7.2 c 1.2,0 1.8,-0.6 2.4,-1.2 l 2.4,-2.4 c 0.6,-0.6 1.2,-1.2 2.4,-1.2 H151.4 a2.4,2.4 0 0 1 2.4,2.4 V491.1 a2.4,2.4 0 0 1 -2.4,2.4 H55.9 c -1.2,0 -1.8,0.6 -2.4,1.2 l -2.4,2.4 c -0.6,0.6 -1.2,1.2 -2.4,1.2 h -7.2 c -1.2,0 -1.8,-0.6 -2.4,-1.2 l -2.4,-2.4 c -0.6,-0.6 -1.2,-1.2 -2.4,-1.2 H29 a2.4,2.4 0 0 1 -2.4,-2.4 z" fill="#54C9C9" stroke="#44A3A3" stroke-width="0.7"/>
<text x="31.8" y="482.1" fill="#fff" font-weight="bold" font-size="9.4" text-anchor="start" textLength="70.2" lengthAdjust="spacing" stroke="#fff" stroke-width="0.22">pausiere (ms)</text>
<rect x="107" y="469.8" width="41.4" height="19.2" rx="9.6" fill="#fff" stroke="#fff" stroke-width="0"/>
<text x="122.15" y="482.1" fill="#575E75" font-weight="normal" font-size="9.4" text-anchor="middle" textLength="16.2" lengthAdjust="spacing" stroke="#575E75" stroke-width="0.3">200</text>
<path d="M134.7,476.95 h6.3 q0.6,0 0.25,0.5 l-2.8,3.2 q-0.4,0.45 -0.8,0 l-2.8,-3.2 q-0.35,-0.5 0.25,-0.5 z" fill="#575E75"/>
</svg>
</body></html>
